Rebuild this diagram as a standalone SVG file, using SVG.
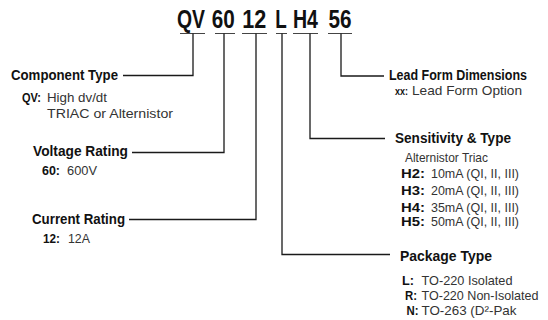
<svg xmlns="http://www.w3.org/2000/svg" width="548" height="320" viewBox="0 0 548 320">
<style>
text{font-family:"Liberation Sans Narrow","Liberation Sans",Arial,sans-serif;fill:#222}
.code{font-size:25px;font-weight:bold;text-anchor:middle;fill:#111}
.h{font-size:14px;font-weight:bold;fill:#111}
.t{font-size:13px;fill:#333}
.b{font-size:13px;font-weight:bold;fill:#111}
.ln{fill:none;stroke:#1a1a1a;stroke-width:1.3}
.ul{stroke:#444;stroke-width:1}
</style>
<rect width="548" height="320" fill="#fff"/>
<g id="code">
<text class="code" x="191" y="28" textLength="28" lengthAdjust="spacingAndGlyphs">QV</text>
<text class="code" x="223.3" y="28" textLength="23" lengthAdjust="spacingAndGlyphs">60</text>
<text class="code" x="254.2" y="28" textLength="24" lengthAdjust="spacingAndGlyphs">12</text>
<text class="code" x="281" y="28" textLength="11.5" lengthAdjust="spacingAndGlyphs">L</text>
<text class="code" x="305.5" y="28" textLength="25" lengthAdjust="spacingAndGlyphs">H4</text>
<text class="code" x="340" y="28" textLength="23" lengthAdjust="spacingAndGlyphs">56</text>
</g>
<g id="connectors">
<line class="ul" x1="180" y1="33.5" x2="205" y2="33.5"/>
<line class="ul" x1="215" y1="33.5" x2="235" y2="33.5"/>
<line class="ul" x1="242" y1="33.5" x2="267" y2="33.5"/>
<line class="ul" x1="276" y1="33.5" x2="287" y2="33.5"/>
<line class="ul" x1="293" y1="33.5" x2="318" y2="33.5"/>
<line class="ul" x1="328" y1="33.5" x2="352" y2="33.5"/>
<polyline class="ln" points="193,33.5 193,75.5 123,75.5"/>
<polyline class="ln" points="224,33.5 224,152.5 132,152.5"/>
<polyline class="ln" points="256,33.5 256,219.5 129,219.5"/>
<polyline class="ln" points="282,33.5 282,254.5 390,254.5"/>
<polyline class="ln" points="310,33.5 310,138.5 385,138.5"/>
<polyline class="ln" points="341,33.5 341,76 384,76"/>
</g>
<g id="component-type">
<text class="h" x="11" y="80" textLength="107" lengthAdjust="spacingAndGlyphs">Component Type</text>
<text class="b" x="22" y="102" textLength="19" lengthAdjust="spacingAndGlyphs">QV:</text>
<text class="t" x="47" y="102" textLength="60" lengthAdjust="spacingAndGlyphs">High dv/dt</text>
<text class="t" x="47" y="118" textLength="126" lengthAdjust="spacingAndGlyphs">TRIAC or Alternistor</text>
</g>
<g id="voltage-rating">
<text class="h" x="33" y="156" textLength="95" lengthAdjust="spacingAndGlyphs">Voltage Rating</text>
<text class="b" x="42" y="175" textLength="18" lengthAdjust="spacingAndGlyphs">60:</text>
<text class="t" x="67" y="175" textLength="30" lengthAdjust="spacingAndGlyphs">600V</text>
</g>
<g id="current-rating">
<text class="h" x="32" y="224" textLength="93" lengthAdjust="spacingAndGlyphs">Current Rating</text>
<text class="b" x="43" y="243" textLength="17" lengthAdjust="spacingAndGlyphs">12:</text>
<text class="t" x="68" y="243" textLength="22" lengthAdjust="spacingAndGlyphs">12A</text>
</g>
<g id="lead-form">
<text class="h" x="389" y="80" textLength="138" lengthAdjust="spacingAndGlyphs">Lead Form Dimensions</text>
<text class="b" x="395" y="94.5" style="font-size:11px" textLength="13" lengthAdjust="spacingAndGlyphs">xx:</text>
<text class="t" x="412" y="94.5" textLength="110" lengthAdjust="spacingAndGlyphs">Lead Form Option</text>
</g>
<g id="sensitivity">
<text class="h" x="395" y="143" textLength="116" lengthAdjust="spacingAndGlyphs">Sensitivity &amp; Type</text>
<text class="t" x="405" y="162" textLength="83" lengthAdjust="spacingAndGlyphs">Alternistor Triac</text>
<text class="b" x="401" y="178" textLength="24" lengthAdjust="spacingAndGlyphs">H2:</text>
<text class="t" x="431" y="178" textLength="88" lengthAdjust="spacingAndGlyphs">10mA (QI, II, III)</text>
<text class="b" x="401" y="195" textLength="24" lengthAdjust="spacingAndGlyphs">H3:</text>
<text class="t" x="431" y="195" textLength="88" lengthAdjust="spacingAndGlyphs">20mA (QI, II, III)</text>
<text class="b" x="401" y="211.5" textLength="24" lengthAdjust="spacingAndGlyphs">H4:</text>
<text class="t" x="431" y="211.5" textLength="88" lengthAdjust="spacingAndGlyphs">35mA (QI, II, III)</text>
<text class="b" x="401" y="226" textLength="24" lengthAdjust="spacingAndGlyphs">H5:</text>
<text class="t" x="431" y="226" textLength="88" lengthAdjust="spacingAndGlyphs">50mA (QI, II, III)</text>
</g>
<g id="package-type">
<text class="h" x="400" y="260.5" textLength="92" lengthAdjust="spacingAndGlyphs">Package Type</text>
<text class="b" x="402" y="285" textLength="12" lengthAdjust="spacingAndGlyphs">L:</text>
<text class="t" x="421.5" y="285" textLength="91" lengthAdjust="spacingAndGlyphs">TO-220 Isolated</text>
<text class="b" x="405" y="300" textLength="12" lengthAdjust="spacingAndGlyphs">R:</text>
<text class="t" x="421.5" y="300" textLength="117" lengthAdjust="spacingAndGlyphs">TO-220 Non-Isolated</text>
<text class="b" x="406.5" y="315" textLength="12" lengthAdjust="spacingAndGlyphs">N:</text>
<text class="t" x="421.5" y="315" textLength="95" lengthAdjust="spacingAndGlyphs">TO-263 (D²-Pak</text>
</g>
</svg>
